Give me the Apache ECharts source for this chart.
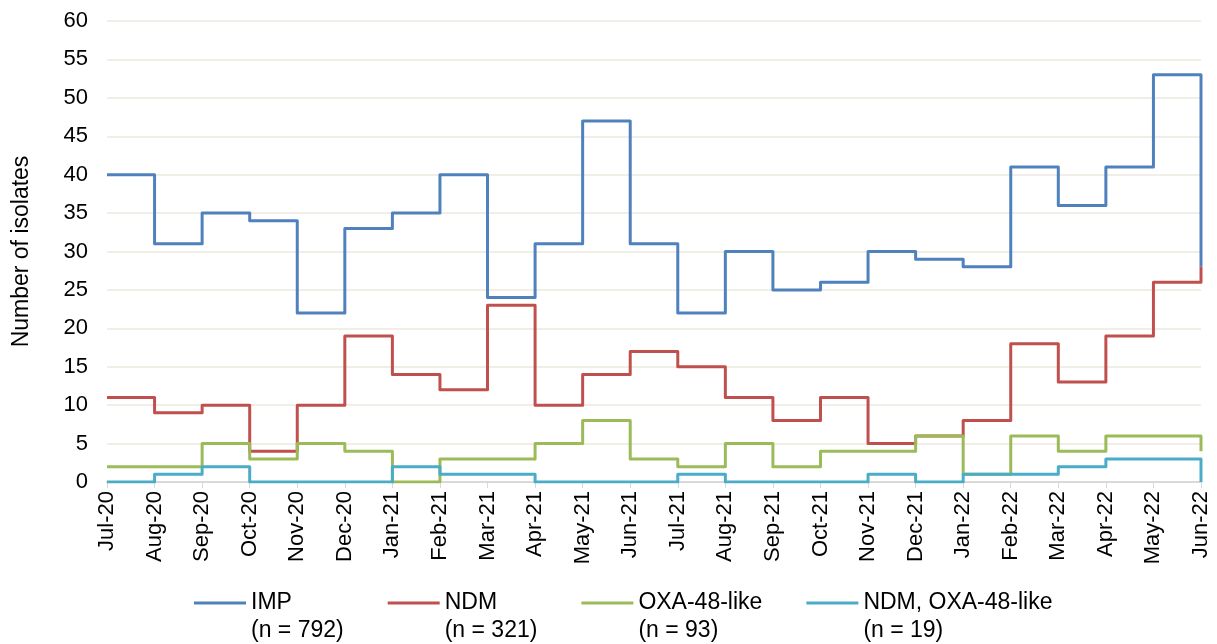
<!DOCTYPE html>
<html>
<head>
<meta charset="utf-8">
<script src="https://cdn.jsdelivr.net/npm/echarts@6/dist/echarts.min.js"></script>
<style>
html,body{margin:0;padding:0;background:#ffffff;}
#chart{width:1217px;height:644px;}
</style>
</head>
<body>
<div id="chart"></div>
<script>
const months = ['Jul-20','Aug-20','Sep-20','Oct-20','Nov-20','Dec-20','Jan-21','Feb-21','Mar-21','Apr-21','May-21','Jun-21',
                'Jul-21','Aug-21','Sep-21','Oct-21','Nov-21','Dec-21','Jan-22','Feb-22','Mar-22','Apr-22','May-22','Jun-22'];
const impValues    = [40,31,35,34,22,33,35,40,24,31,47,31,22,30,25,26,30,29,28,41,36,41,53,28];
const ndmValues    = [11,9,10,4,10,19,14,12,23,10,14,17,15,11,8,11,5,6,8,18,13,19,26,28];
const oxaValues    = [2,2,5,3,5,4,0,3,3,5,8,3,2,5,2,4,4,6,1,6,4,6,6,4];
const ndmOxaValues = [0,1,2,0,0,0,2,1,1,0,0,0,1,0,0,0,1,0,1,1,2,3,3,0];
const seriesNames  = ['IMP','NDM','OXA-48-like','NDM, OXA-48-like'];
const seriesTotals = [792,321,93,19];
const yMin = 0, yMax = 60, yStep = 5;

const colors = ['#4f81bd','#c0504d','#9bbb59','#4bacc6'];
const allValues = [impValues, ndmValues, oxaValues, ndmOxaValues];
const font = 'Liberation Sans, Arial, sans-serif';

const chart = echarts.init(document.getElementById('chart'), null, {renderer:'canvas'});
chart.setOption({
  animation: false,
  backgroundColor: '#ffffff',
  grid: {left: 107, right: 16, top: 21, bottom: 162, containLabel: false},
  legend: {
    left: 194, top: 561, padding: 0,
    icon: 'rect', itemWidth: 52, itemHeight: 3, itemGap: 44,
    data: seriesNames,
    formatter: function (name) {
      const i = seriesNames.indexOf(name);
      return ' \n' + name + '\n(n = ' + seriesTotals[i] + ')';
    },
    textStyle: {color: '#000', fontFamily: font, fontSize: 23, lineHeight: 28}
  },
  xAxis: {
    type: 'category', data: months, boundaryGap: false,
    axisLine: {show: true, lineStyle: {color: '#d9d9d9', width: 2}},
    axisTick: {show: true, length: 6, alignWithLabel: true, lineStyle: {color: '#d9d9d9', width: 1}},
    axisLabel: {interval: 0, rotate: 90, margin: 9, color: '#000', fontFamily: font, fontSize: 22},
    splitLine: {show: false}
  },
  yAxis: {
    type: 'value', min: yMin, max: yMax, interval: yStep,
    name: 'Number of isolates', nameLocation: 'middle', nameRotate: 90, nameGap: 74,
    nameTextStyle: {color: '#000', fontFamily: font, fontSize: 23},
    axisLine: {show: false}, axisTick: {show: false},
    axisLabel: {margin: 19, color: '#000', fontFamily: font, fontSize: 22},
    splitLine: {show: true, lineStyle: {color: '#ece9df', width: 1.5}}
  },
  series: seriesNames.map((n, i) => ({
    name: n, type: 'line', step: 'end', data: allValues[i],
    showSymbol: false, symbol: 'none',
    lineStyle: {color: colors[i], width: 3, join: 'round'},
    itemStyle: {color: colors[i]},
    emphasis: {disabled: true}
  }))
});
</script>
</body>
</html>
